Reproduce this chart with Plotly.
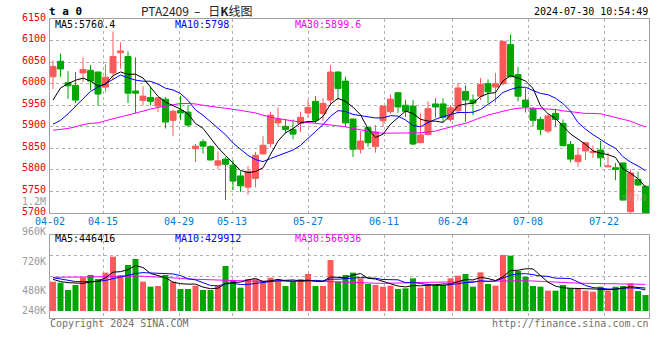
import plotly.graph_objects as go

# ---------------- data ----------------
dates = [
    "2024-04-02", "2024-04-03", "2024-04-08", "2024-04-09", "2024-04-10", "2024-04-11", "2024-04-12",
    "2024-04-15", "2024-04-16", "2024-04-17", "2024-04-18", "2024-04-19", "2024-04-22", "2024-04-23",
    "2024-04-24", "2024-04-25", "2024-04-26", "2024-04-29", "2024-04-30", "2024-05-06", "2024-05-07",
    "2024-05-08", "2024-05-09", "2024-05-10", "2024-05-13", "2024-05-14", "2024-05-15", "2024-05-16",
    "2024-05-17", "2024-05-20", "2024-05-21", "2024-05-22", "2024-05-23", "2024-05-24", "2024-05-27",
    "2024-05-28", "2024-05-29", "2024-05-30", "2024-05-31", "2024-06-03", "2024-06-04", "2024-06-05",
    "2024-06-06", "2024-06-07", "2024-06-11", "2024-06-12", "2024-06-13", "2024-06-14", "2024-06-17",
    "2024-06-18", "2024-06-19", "2024-06-20", "2024-06-21", "2024-06-24", "2024-06-25", "2024-06-26",
    "2024-06-27", "2024-06-28", "2024-07-01", "2024-07-02", "2024-07-03", "2024-07-04", "2024-07-05",
    "2024-07-08", "2024-07-09", "2024-07-10", "2024-07-11", "2024-07-12", "2024-07-15", "2024-07-16",
    "2024-07-17", "2024-07-18", "2024-07-19", "2024-07-22", "2024-07-23", "2024-07-24", "2024-07-25",
    "2024-07-26", "2024-07-29", "2024-07-30",
]

open_prices = [6016, 6052, 6002, 5996, 6025, 6031, 6027, 5992, 6025, 6072,
               6063, 5983, 5961, 5968, 5948, 5964, 5915, 5938, 5934, 5849,
               5865, 5854, 5811, 5825, 5811, 5786, 5760, 5780, 5837, 5861,
               5909, 5901, 5894, 5908, 5932, 5959, 5931, 5962, 6027, 6006,
               5918, 5848, 5898, 5854, 5914, 5935, 5979, 5950, 5948, 5863,
               5882, 5953, 5953, 5917, 5937, 5982, 5962, 5971, 6000, 5992,
               6000, 6091, 6021, 5962, 5942, 5917, 5890, 5931, 5908, 5859,
               5819, 5844, 5840, 5846, 5807, 5805, 5816, 5703, 5778, 5762]

high_prices = [6054, 6070, 6029, 6027, 6061, 6043, 6028, 6044, 6121, 6096,
               6075, 6061, 5994, 5992, 5969, 5969, 5940, 5972, 5950, 5860,
               5871, 5857, 5843, 5830, 5823, 5797, 5809, 5842, 5878, 5935,
               5945, 5918, 5917, 5935, 5963, 5971, 5966, 6043, 6028, 6016,
               5919, 5890, 5900, 5904, 5948, 5975, 5981, 5963, 5962, 5931,
               5959, 5966, 5966, 5950, 6002, 5996, 5975, 6013, 6010, 6025,
               6099, 6114, 6039, 5989, 5946, 5923, 5929, 5942, 5917, 5867,
               5852, 5865, 5857, 5867, 5840, 5816, 5817, 5801, 5796, 5764]

low_prices = [5988, 6016, 5965, 5955, 6004, 5985, 5949, 5981, 6010, 6035,
              5955, 5932, 5950, 5950, 5934, 5896, 5879, 5915, 5899, 5818,
              5838, 5822, 5802, 5730, 5753, 5749, 5742, 5759, 5836, 5853,
              5900, 5885, 5871, 5888, 5921, 5909, 5914, 5948, 5962, 5900,
              5830, 5838, 5853, 5840, 5900, 5930, 5932, 5923, 5857, 5862,
              5880, 5921, 5911, 5912, 5931, 5911, 5927, 5962, 5955, 5956,
              5996, 6015, 5959, 5933, 5901, 5881, 5885, 5901, 5855, 5817,
              5807, 5823, 5827, 5807, 5807, 5776, 5729, 5700, 5762, 5700]

close_prices = [6040, 6034, 5995, 5962, 6033, 6006, 5976, 6015, 6063, 6076,
                5978, 5978, 5971, 5959, 5967, 5911, 5936, 5932, 5904, 5855,
                5855, 5823, 5821, 5813, 5774, 5763, 5797, 5834, 5857, 5927,
                5918, 5894, 5883, 5922, 5945, 5915, 5954, 6027, 5989, 5909,
                5848, 5867, 5863, 5888, 5948, 5964, 5946, 5936, 5860, 5881,
                5942, 5946, 5922, 5944, 5990, 5962, 5955, 5998, 5981, 6000,
                6098, 6016, 5971, 5946, 5915, 5894, 5925, 5917, 5856, 5825,
                5834, 5863, 5843, 5828, 5809, 5801, 5730, 5793, 5765, 5700]

ma5 = [5962, 5990, 6000, 6008, 6012.8, 6006.0, 5994.4, 5998.4, 6018.6, 6027.2,
       6021.6, 6022.0, 6013.2, 5992.4, 5970.6, 5957.2, 5948.8, 5941.0, 5930.0, 5907.6,
       5896.4, 5873.8, 5851.6, 5833.4, 5817.2, 5798.8, 5793.6, 5796.2, 5805.0, 5835.6,
       5866.6, 5886.0, 5895.8, 5908.8, 5912.4, 5911.8, 5923.8, 5952.6, 5966.0, 5958.8,
       5945.4, 5928.0, 5895.2, 5875.0, 5882.8, 5906.0, 5921.8, 5936.4, 5930.8, 5917.4,
       5913.0, 5913.0, 5910.2, 5927.0, 5948.8, 5952.8, 5954.6, 5969.8, 5977.2, 5979.2,
       6006.4, 6018.6, 6013.2, 6006.2, 5989.2, 5948.4, 5930.2, 5919.4, 5901.4, 5883.4,
       5871.4, 5859.0, 5844.2, 5838.6, 5835.4, 5828.8, 5802.2, 5792.2, 5779.6, 5760.4]

ma10 = [5906, 5915, 5930, 5948, 5965, 5982, 5992, 6000, 6010, 6020.0,
        6013.8, 6008.2, 6005.8, 6005.5, 5998.9, 5989.4, 5985.4, 5977.1, 5961.2, 5939.1,
        5926.8, 5911.3, 5896.3, 5881.7, 5862.4, 5847.6, 5833.7, 5823.9, 5819.2, 5826.4,
        5832.7, 5839.8, 5846.0, 5856.9, 5874.0, 5889.2, 5904.9, 5924.2, 5937.4, 5935.6,
        5928.6, 5925.9, 5923.9, 5920.5, 5920.8, 5925.7, 5924.9, 5915.8, 5902.9, 5900.1,
        5909.5, 5917.4, 5923.3, 5928.9, 5933.1, 5932.9, 5933.8, 5940.0, 5952.1, 5964.0,
        5979.6, 5986.6, 5991.5, 5991.7, 5984.2, 5977.4, 5974.4, 5966.3, 5953.8, 5936.3,
        5909.9, 5894.6, 5881.8, 5870.0, 5859.4, 5850.1, 5830.6, 5818.2, 5809.1, 5798.0]

ma30 = [5892, 5894, 5896, 5900, 5905, 5908, 5909, 5914, 5919, 5923,
        5927, 5932, 5937, 5941, 5945, 5948, 5952, 5954, 5954, 5953,
        5950, 5947, 5945, 5943, 5941, 5938, 5935, 5932, 5927, 5922,
        5919, 5916, 5913, 5911, 5910, 5908, 5905, 5904, 5902, 5900,
        5896, 5893, 5889, 5887, 5885, 5885, 5885, 5885, 5886, 5886,
        5888, 5890, 5895, 5900, 5904, 5908, 5915, 5921, 5927, 5932,
        5936, 5940, 5943, 5944, 5943, 5942, 5942, 5940, 5937, 5935,
        5932, 5931, 5931, 5930, 5926, 5922, 5917, 5913, 5906, 5899.6]

# volume in thousands of lots
volume_k = [504, 495, 429, 474, 543, 564, 528, 585, 729, 564,
            654, 708, 504, 459, 465, 564, 504, 438, 438, 468,
            429, 429, 465, 645, 513, 450, 528, 528, 510, 540,
            519, 465, 504, 528, 573, 465, 465, 699, 504, 564,
            585, 534, 483, 474, 459, 468, 438, 444, 534, 450,
            483, 474, 474, 534, 558, 573, 459, 588, 483, 468,
            744, 738, 600, 549, 465, 459, 423, 423, 474, 444,
            438, 423, 414, 459, 423, 459, 465, 489, 420, 384]

vol_ma5_k = [525, 505, 495, 490, 489, 501, 507.6, 538.8, 589.8, 594,
             612, 648, 631.8, 577.8, 558, 540, 499.2, 486, 481.8, 482.4,
             455.4, 440.4, 445.8, 487.2, 496.2, 500.4, 520.2, 532.8, 505.8, 511.2,
             525, 512.4, 507.6, 511.2, 517.8, 507, 507, 546, 541.2, 539.4,
             563.4, 577.2, 534, 528, 507, 483.6, 464.4, 456.6, 468.6, 466.8,
             469.8, 477, 483, 483, 504.6, 522.6, 519.6, 542.4, 532.2, 514.2,
             548.4, 604.2, 606.6, 619.8, 619.2, 562.2, 499.2, 463.8, 448.8, 444.6,
             440.4, 440.4, 438.6, 435.6, 431.4, 435.6, 444, 459, 451.2, 446.4]

vol_ma10_k = [540, 530, 515, 505, 504, 505, 507, 515, 530, 541.5,
              556.5, 577.8, 585.3, 583.8, 576, 576, 573.6, 558.9, 529.8, 520.2,
              497.7, 469.8, 465.9, 484.5, 489.3, 477.9, 480.3, 489.3, 496.5, 503.7,
              512.7, 516.3, 520.2, 508.5, 514.5, 516, 509.7, 526.8, 526.2, 528.6,
              535.2, 542.1, 540, 534.6, 523.2, 523.5, 520.8, 495.3, 498.3, 486.9,
              476.7, 470.7, 469.8, 475.8, 485.7, 496.2, 498.3, 512.7, 507.6, 509.4,
              535.5, 561.9, 574.5, 576, 566.7, 555.3, 551.7, 535.2, 534.3, 531.9,
              501.3, 469.8, 451.2, 442.2, 438, 438, 442.2, 448.8, 443.4, 429.9]

vol_ma30_k = [543, 543, 543, 543, 543, 543, 543, 543, 549, 552,
              555, 555, 553, 550, 549, 545, 538, 534, 528, 525,
              522, 519, 517, 515, 513, 512, 510, 508, 507, 507,
              507, 508, 510, 512, 513, 510, 507, 504, 500, 498,
              496, 494, 492, 490, 489, 489, 490, 492, 495, 497,
              498, 497, 496, 495, 497, 500, 502, 504, 506, 509,
              511, 513, 513, 512, 510, 506, 502, 498, 495, 493,
              491, 489, 488, 486, 485, 484, 483, 482, 481, 480]

price_ticks = [5700, 5750, 5800, 5850, 5900, 5950, 6000, 6050, 6100, 6150]
date_ticks = ["04-02", "04-15", "04-29", "05-13", "05-27", "06-11", "06-24", "07-08", "07-22"]
vol_axis_labels = ["1.2M", "960K", "720K", "480K", "240K"]

main_legend = ["MA5:5760.4", "MA10:5798", "MA30:5899.6"]
vol_legend = ["MA5:446416", "MA10:429912", "MA30:566936"]

# ---------------- styling / geometry ----------------
UP = "#ff5a5a"
DOWN = "#00a600"
MONO = "DejaVu Sans Mono"
GRID = "#b0b0b0"
FRAME = "#a0a0a0"

L, R, T, B = 50, 649, 19, 318          # plot frame in pixels
W, H = R - L, B - T


def px(p):
    return (p - L) / W


def py(p):
    return (B - p) / H


n = len(dates)
xi = list(range(n))
STEP = 7.5          # candle pitch in px, first candle centre at 53 px
X0 = 53
x_lo = (L - X0) / STEP
x_hi = (R - X0) / STEP


def grid_pos(i):
    # Sina spreads its grid/date labels over 600px / (n-1)
    return (L + i * 600 / (n - 1) - X0) / STEP


tick_pos = [grid_pos(dates.index("2024-" + d)) for d in date_ticks]

VOL_BASE = 240
bar_colors = [UP if c >= o else DOWN for o, c in zip(open_prices, close_prices)]

fig = go.Figure()

fig.add_trace(go.Candlestick(
    x=xi, open=open_prices, high=high_prices, low=low_prices, close=close_prices,
    increasing=dict(line=dict(color=UP, width=1), fillcolor=UP),
    decreasing=dict(line=dict(color=DOWN, width=1), fillcolor=DOWN),
    xaxis="x", yaxis="y", hoverinfo="skip",
))
for series, col in [(ma30, "#ff00ff"), (ma10, "#0000ff"), (ma5, "#000000")]:
    fig.add_trace(go.Scatter(x=xi, y=series, mode="lines", line=dict(color=col, width=1),
                             xaxis="x", yaxis="y", hoverinfo="skip"))

fig.add_trace(go.Bar(
    x=xi, y=[v - VOL_BASE for v in volume_k], base=VOL_BASE, width=0.8,
    marker=dict(color=bar_colors, line=dict(width=0)),
    xaxis="x2", yaxis="y2", hoverinfo="skip",
))
for series, col in [(vol_ma30_k, "#ff00ff"), (vol_ma10_k, "#0000ff"), (vol_ma5_k, "#000000")]:
    fig.add_trace(go.Scatter(x=xi, y=series, mode="lines", line=dict(color=col, width=1),
                             xaxis="x2", yaxis="y2", hoverinfo="skip"))

common_x = dict(range=[x_lo, x_hi], tickvals=tick_pos, showticklabels=False, ticks="",
                showgrid=True, gridcolor=GRID, griddash="dot", gridwidth=1,
                showline=True, mirror=True, linecolor=FRAME, linewidth=1, zeroline=False)

fig.update_layout(
    width=660, height=360,
    margin=dict(l=L, r=660 - R, t=T, b=360 - B),
    paper_bgcolor="white", plot_bgcolor="white",
    showlegend=False, boxgap=0.2, boxgroupgap=0,
    xaxis=dict(domain=[0, 1], anchor="y", rangeslider=dict(visible=False), **common_x),
    xaxis2=dict(domain=[0, 1], anchor="y2", matches="x", **common_x),
    yaxis=dict(domain=[py(213), 1], range=[5700, 6150], tickvals=price_ticks,
               showticklabels=False, ticks="",
               showgrid=True, gridcolor=GRID, griddash="dot", gridwidth=1,
               showline=True, mirror=True, linecolor=FRAME, linewidth=1, zeroline=False),
    yaxis2=dict(domain=[0, py(235)], range=[177, 924], tickvals=[363.75, 550.5, 737.25],
                showticklabels=False, ticks="",
                showgrid=True, gridcolor=GRID, griddash="dot", gridwidth=1,
                showline=True, mirror=True, linecolor=FRAME, linewidth=1, zeroline=False),
)

ann = []


def text(s, x, y, color="#000000", size=10, family=MONO, anchor="left", xref="paper",
         yref="paper", yshift=0):
    ann.append(dict(text=s, x=x, y=y, xref=xref, yref=yref, xanchor=anchor, yanchor="middle",
                    showarrow=False, font=dict(family=family, size=size, color=color),
                    borderpad=0, yshift=yshift))


# faint watermark
text("<b><i>sina</i></b>", px(634), py(196), color="rgba(190,150,150,0.35)", size=13,
     family="Liberation Sans", anchor="center")

text("<b>t a 0</b>", px(48), py(11.5), size=11)
text("PTA2409&nbsp;&nbsp;<span style='font-family:DejaVu Sans'>–</span>&nbsp;&nbsp;&nbsp;日<b>K</b>线图",
     px(140), py(10.5), color="#222222", size=12, family="Noto Sans CJK SC")
text("2024-07-30 10:54:49", px(649), py(11), anchor="right")

for s, xp, col in zip(main_legend, [54, 174, 294], ["#000000", "#0000ff", "#ff00ff"]):
    text(s, px(xp), py(24.5), color=col)
for s, xp, col in zip(vol_legend, [54, 174, 294], ["#000000", "#0000ff", "#ff00ff"]):
    text(s, px(xp), py(238.5), color=col)

for v in price_ticks:
    text(str(v), px(46.5), v, color="#e80000", anchor="right", yref="y", yshift=2)

for s, yp in zip(vol_axis_labels, [201, 231, 261, 290, 310]):
    text(s, px(47), py(yp), color="#999999", anchor="right")

for d, pos in zip(date_ticks, tick_pos):
    text(d, pos, py(221), color="#0078d7", anchor="center", xref="x")

text("Copyright 2024 SINA.COM", px(49), py(323.5), color="#707070")
text("http://finance.sina.com.cn", px(650), py(323.5), color="#707070", anchor="right")

fig.update_layout(annotations=ann)
fig.write_html("out.html", config={"displayModeBar": False, "staticPlot": True},
               post_script="document.body.style.margin='0';")
